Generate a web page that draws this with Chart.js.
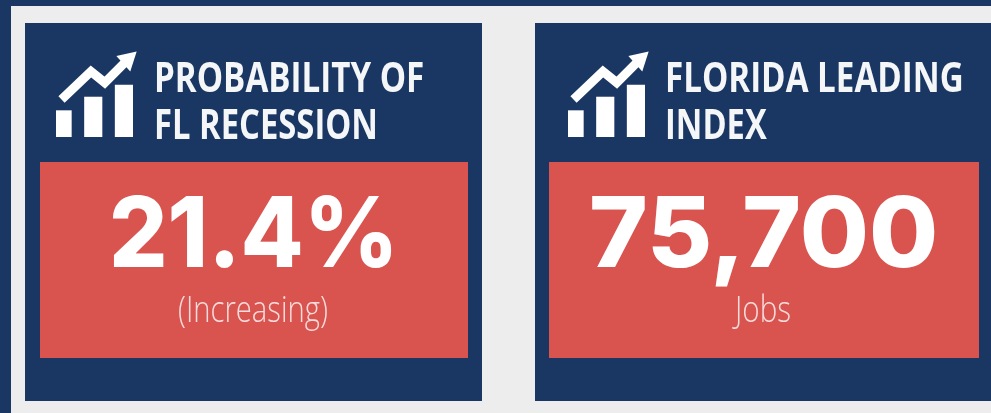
<!DOCTYPE html>
<html>
<head>
<meta charset="utf-8">
<title>Florida indicators</title>
<script src="https://cdn.jsdelivr.net/npm/chart.js@4"></script>
<style>
html, body { margin: 0; padding: 0; background: #1a3763; }
#page { position: relative; width: 991px; height: 413px; overflow: hidden; background: #1a3763; }
#panel { position: absolute; left: 11px; top: 6px; width: 980px; height: 407px; background: #ededed; }
.card { position: absolute; top: 23px; height: 378px; background: #1a3763; }
.box { position: absolute; top: 139px; height: 196px; background: #d9534f; }
.txt { position: absolute; white-space: nowrap; color: #fff; transform-origin: 0 0; line-height: 1; filter: blur(0.5px); }
.title { font: 700 42px/1 "Open Sans", sans-serif; color: #f4f6f8; }
.value { font: 800 97px/1 Inter, sans-serif; }
.sub { font: 300 37px/1 "Open Sans", sans-serif; color: #f6dcdb; }
canvas { position: absolute; filter: blur(0.4px); }
</style>
</head>
<body>
<div id="page"><div id="panel"></div></div>
<script>
/* ================= DATA ================= */
const cardTitles = [["PROBABILITY OF", "FL RECESSION"], ["FLORIDA LEADING", "INDEX"]];
const cardValues = ["21.4%", "75,700"];
const cardNotes = ["(Increasing)", "Jobs"];

const iconCategories = ["a", "b", "c"];
const iconBars = [31, 47, 61];
const iconTrendX = [6, 38, 53, 78];
const iconTrendY = [44, 77, 64, 91];

/* ================= LAYOUT ================= */
const cards = [
    { left: 25, width: 457, boxLeft: 15, boxWidth: 428, iconLeft: 50, titleLeft: 154,
      titleW: [270, 224], valueLeft: 109, valueW: 290, noteLeft: 178, noteW: 150 },
    { left: 535, width: 456, boxLeft: 14, boxWidth: 430, iconLeft: 562, titleLeft: 665,
      titleW: [299, 102], valueLeft: 589, valueW: 349, noteLeft: 735, noteW: 56 }
];

const page = document.getElementById("page");

function addText(cls, text, left, top, width) {
    const el = document.createElement("div");
    el.className = "txt " + cls;
    el.textContent = text;
    el.style.left = left + "px";
    el.style.top = top + "px";
    page.appendChild(el);
    el.style.transform = "scaleX(" + (width / el.offsetWidth) + ")";
}

function drawIcon(left) {
    const canvas = document.createElement("canvas");
    canvas.width = 104;
    canvas.height = 97;
    canvas.style.left = left + "px";
    canvas.style.top = "46px";
    page.appendChild(canvas);

    new Chart(canvas, {
        data: {
            labels: iconCategories,
            datasets: [
                {
                    type: "bar",
                    data: iconBars,
                    backgroundColor: "#ffffff",
                    barThickness: 17.5,
                    xAxisID: "x",
                    yAxisID: "y"
                },
                {
                    type: "line",
                    data: iconTrendX.map((x, i) => ({ x: x, y: iconTrendY[i] })),
                    borderColor: "#ffffff",
                    backgroundColor: "#ffffff",
                    borderWidth: 9,
                    borderJoinStyle: "miter",
                    tension: 0,
                    clip: false,
                    pointStyle: "triangle",
                    pointRadius: [0, 0, 0, 12],
                    pointRotation: [0, 0, 0, 48],
                    pointBorderWidth: 0,
                    xAxisID: "x2",
                    yAxisID: "y"
                }
            ]
        },
        options: {
            responsive: false,
            animation: false,
            layout: { padding: 6, autoPadding: false },
            plugins: { legend: { display: false }, tooltip: { enabled: false } },
            scales: {
                x: { display: false, offset: true },
                x2: { type: "linear", display: false, min: 0, max: 100 },
                y: { display: false, min: 0, max: 100 }
            }
        }
    });
}

/* ================= BUILD ================= */
cards.forEach((c, i) => {
    const card = document.createElement("div");
    card.className = "card";
    card.style.left = c.left + "px";
    card.style.width = c.width + "px";
    const box = document.createElement("div");
    box.className = "box";
    box.style.left = c.boxLeft + "px";
    box.style.width = c.boxWidth + "px";
    card.appendChild(box);
    page.appendChild(card);

    drawIcon(c.iconLeft);

    addText("title", cardTitles[i][0], c.titleLeft, 55, c.titleW[0]);
    addText("title", cardTitles[i][1], c.titleLeft, 102, c.titleW[1]);
    addText("value", cardValues[i], c.valueLeft, 183, c.valueW);
    addText("sub", cardNotes[i], c.noteLeft, 289, c.noteW);
});
</script>
</body>
</html>
